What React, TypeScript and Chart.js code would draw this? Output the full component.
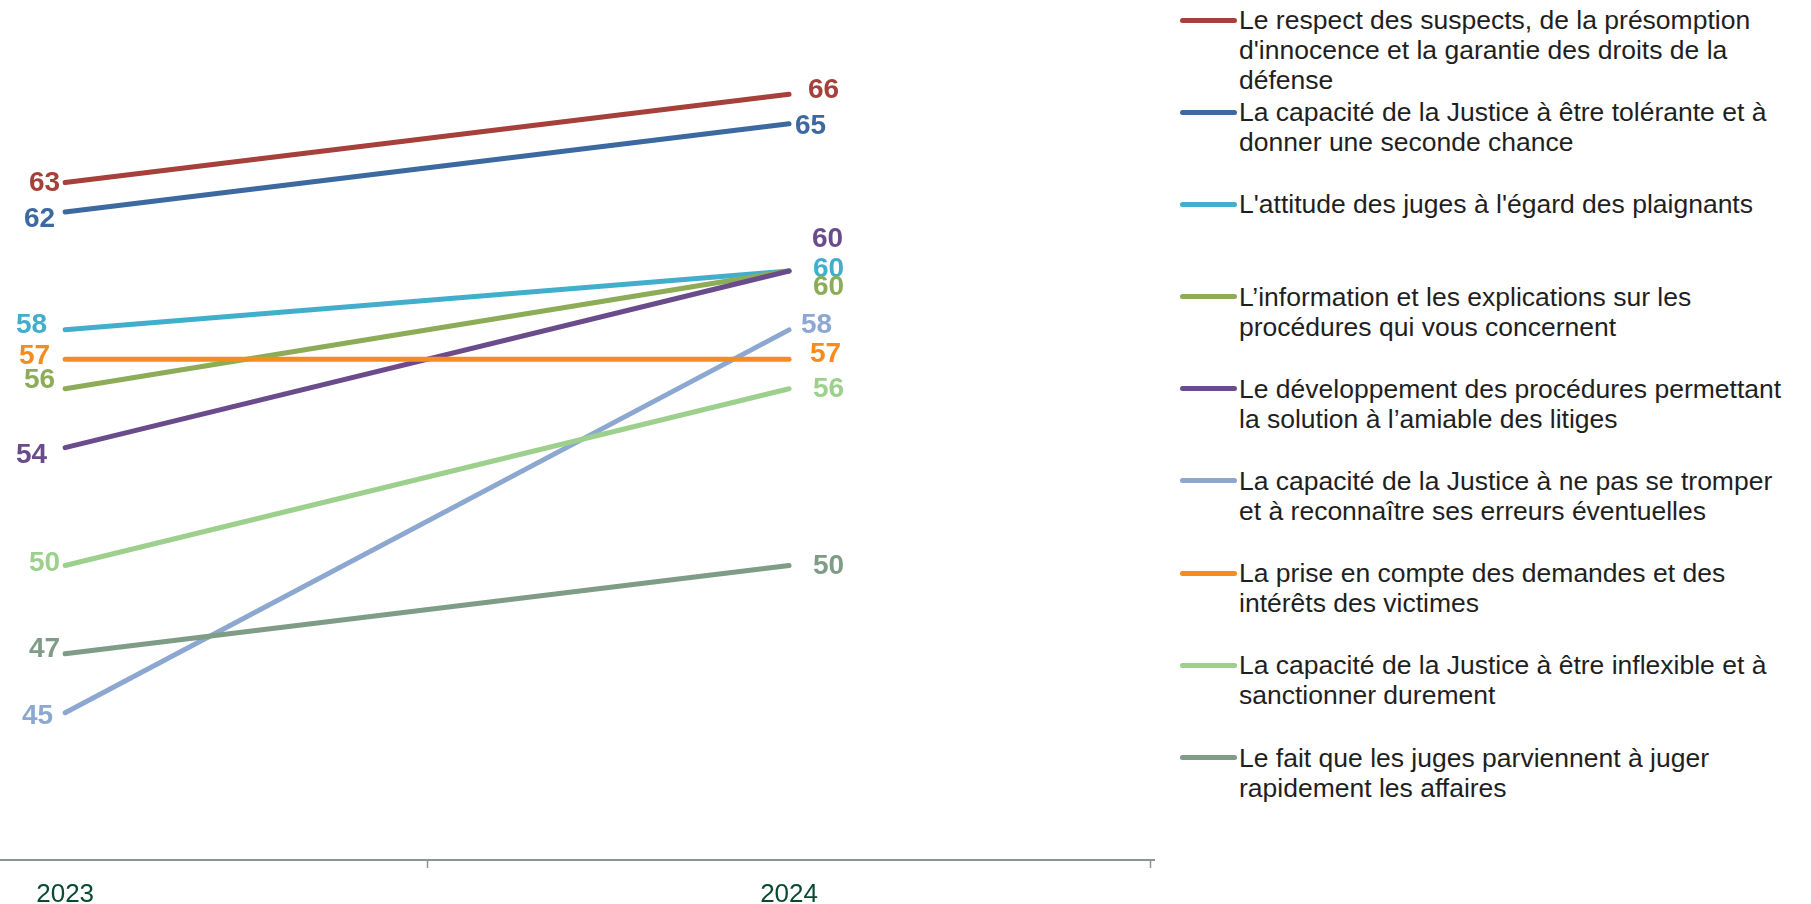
import React, { useEffect, useRef } from 'react';
import { Chart, registerables } from 'chart.js';

Chart.register(...registerables);

// ---- Data ----
const categories = ['2023', '2024'];

const seriesNames: string[][] = [
  ['Le respect des suspects, de la présomption', "d'innocence et la garantie des droits de la", 'défense'],
  ['La capacité de la Justice à être tolérante et à', 'donner une seconde chance'],
  ["L'attitude des juges à l'égard des plaignants"],
  ['L’information et les explications sur les', 'procédures qui vous concernent'],
  ['Le développement des procédures permettant', 'la solution à l’amiable des litiges'],
  ['La capacité de la Justice à ne pas se tromper', 'et à reconnaître ses erreurs éventuelles'],
  ['La prise en compte des demandes et des', 'intérêts des victimes'],
  ['La capacité de la Justice à être inflexible et à', 'sanctionner durement'],
  ['Le fait que les juges parviennent à juger', 'rapidement les affaires'],
];

const respectSuspects = [63, 66];
const toleranceJustice = [62, 65];
const attitudeJuges = [58, 60];
const informationProcedures = [56, 60];
const solutionAmiable = [54, 60];
const reconnaitreErreurs = [45, 58];
const interetsVictimes = [57, 57];
const inflexibilite = [50, 56];
const rapidite = [47, 50];

const seriesValues = [
  respectSuspects,
  toleranceJustice,
  attitudeJuges,
  informationProcedures,
  solutionAmiable,
  reconnaitreErreurs,
  interetsVictimes,
  inflexibilite,
  rapidite,
];

// ---- Styles ----
const colors = [
  '#a5403a',
  '#3c69a0',
  '#41afcc',
  '#8dac58',
  '#6a4c8c',
  '#8da8d0',
  '#f68b1f',
  '#9dd08c',
  '#7f9c86',
];

// label nudges [dx, dy] for first and last points
const labelOffsetsStart = [
  [-5, 1], [-10, 7], [-18, -5], [-10, -8], [-18, 8], [-12, 4], [-15, -3], [-5, -2], [-5, -5],
];
const labelOffsetsEnd = [
  [19, -4], [6, 3], [24, -2], [24, 16], [23, -32], [12, -5], [21, -5], [24, 1], [24, 1],
];

const axisColor = '#8c9690';
const fontFamily = '"Liberation Sans", Arial, sans-serif';

const valueLabels = {
  id: 'valueLabels',
  afterDatasetsDraw(chart: any) {
    const ctx = chart.ctx;
    ctx.save();
    ctx.font = `bold 28px ${fontFamily}`;
    ctx.textBaseline = 'middle';
    chart.data.datasets.forEach((ds: any, i: number) => {
      const meta = chart.getDatasetMeta(i);
      meta.data.forEach((pt: any, j: number) => {
        const off = (j === 0 ? labelOffsetsStart : labelOffsetsEnd)[i];
        ctx.fillStyle = ds.borderColor;
        ctx.textAlign = j === 0 ? 'right' : 'left';
        ctx.fillText(String(ds.data[j].y), pt.x + off[0], pt.y + off[1]);
      });
    });
    ctx.restore();
  },
};

export default function App() {
  const canvasRef = useRef<HTMLCanvasElement | null>(null);

  useEffect(() => {
    if (!canvasRef.current) return;
    const n = seriesValues.length;
    const chart = new Chart(canvasRef.current, {
      type: 'line',
      data: {
        datasets: seriesValues.map((vals, i) => ({
          label: seriesNames[i].join(' '),
          data: vals.map((v, k) => ({ x: k + 1, y: v })),
          borderColor: colors[i],
          backgroundColor: colors[i],
          borderWidth: 5,
          borderCapStyle: 'round',
          borderJoinStyle: 'round',
          pointRadius: 0,
          pointHoverRadius: 0,
          tension: 0,
          fill: false,
          order: n - i,
        })),
      },
      options: {
        responsive: false,
        maintainAspectRatio: false,
        animation: false,
        events: [],
        layout: { padding: { left: 0, right: 0, top: 0, bottom: 0 } },
        plugins: {
          legend: { display: false },
          tooltip: { enabled: false },
          title: { display: false },
        },
        scales: {
          x: {
            type: 'linear',
            min: 0.91,
            max: 2.505,
            afterBuildTicks: (scale: any) => {
              const t: { value: number }[] = [];
              categories.forEach((_, i) => {
                t.push({ value: i + 1 });
                t.push({ value: i + 1.5 });
              });
              scale.ticks = t;
            },
            ticks: {
              autoSkip: false,
              maxRotation: 0,
              padding: 14,
              color: '#0a4a30',
              font: { family: fontFamily, size: 26, lineHeight: 1 },
              callback: (value: any) =>
                Number.isInteger(value) ? categories[value - 1] ?? '' : '',
            },
            grid: {
              display: true,
              drawOnChartArea: false,
              drawTicks: true,
              tickLength: 8,
              tickWidth: 1.5,
              tickColor: (ctx: any) =>
                ctx.tick && Number.isInteger(ctx.tick.value) ? 'rgba(0,0,0,0)' : axisColor,
            },
            border: { display: true, color: axisColor, width: 2 },
          },
          y: {
            type: 'linear',
            display: false,
            min: 40,
            max: 69.2,
          },
        },
      },
      plugins: [valueLabels],
    } as any);
    return () => chart.destroy();
  }, []);

  return (
    <div style={{ position: 'absolute', left: 0, top: 0, width: 1811, height: 904, overflow: 'hidden', background: '#ffffff' }}>
      <canvas
        ref={canvasRef}
        width={1165}
        height={922}
        style={{ position: 'absolute', left: 0, top: 0, width: 1165, height: 922, display: 'block' }}
      />
      <div
        style={{
          position: 'absolute',
          left: 1180,
          top: 5,
          fontFamily,
          fontSize: 26.5,
          lineHeight: '30px',
          color: '#1f1f1f',
        }}
      >
        {seriesNames.map((lines, i) => (
          <div key={i} style={{ display: 'flex', alignItems: 'flex-start', height: 92.2 }}>
            <div
              style={{
                width: 57,
                height: 5,
                borderRadius: 2.5,
                background: colors[i],
                marginTop: 12.5,
                flex: 'none',
              }}
            />
            <div style={{ marginLeft: 2, whiteSpace: 'nowrap' }}>
              {lines.map((l, k) => (
                <div key={k}>{l}</div>
              ))}
            </div>
          </div>
        ))}
      </div>
    </div>
  );
}
